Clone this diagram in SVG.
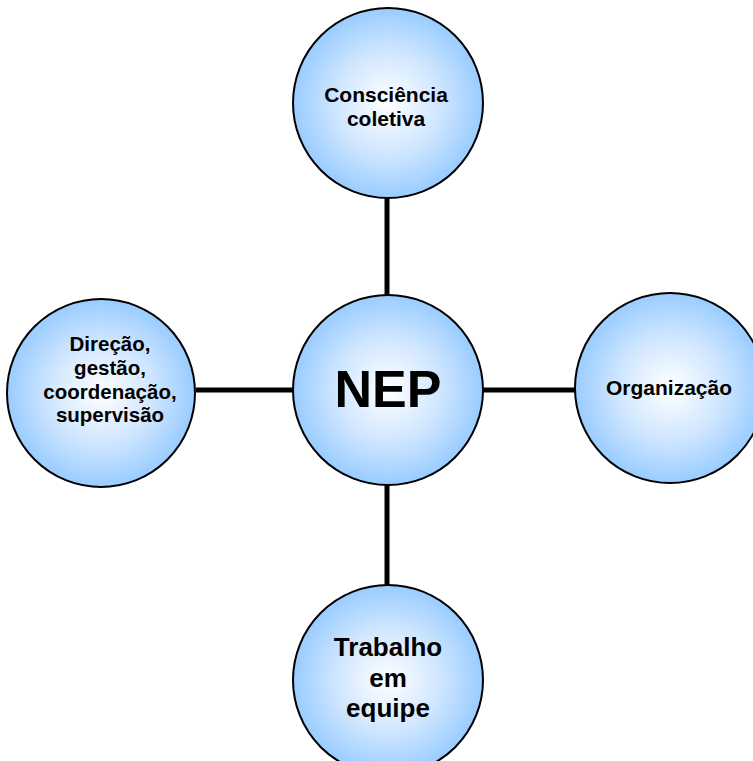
<svg xmlns="http://www.w3.org/2000/svg" width="753" height="761" viewBox="0 0 753 761">
<style>
.c{fill:url(#g);stroke:#000;stroke-width:2}
.t{font-family:"Liberation Sans",Arial,sans-serif;font-weight:bold;fill:#000;text-anchor:middle}
.l{stroke:#000;stroke-width:5;fill:none}
</style>
<defs>
<radialGradient id="g" cx="50%" cy="50%" r="50%">
<stop offset="0" stop-color="#ffffff"/>
<stop offset="0.55" stop-color="#cfe6ff"/>
<stop offset="1" stop-color="#99ccff"/>
</radialGradient>
</defs>
<rect width="753" height="761" fill="#fff"/>
<g id="connectors">
<line class="l" x1="387" y1="197" x2="387" y2="296"/>
<line class="l" x1="196" y1="390" x2="294" y2="390"/>
<line class="l" x1="481" y1="390" x2="576" y2="390"/>
<line class="l" x1="387" y1="484" x2="387" y2="586"/>
</g>
<g id="consciencia">
<circle class="c" cx="388" cy="103" r="95"/>
<text class="t" font-size="21" x="386" y="102">Consciência</text>
<text class="t" font-size="21" x="386" y="126">coletiva</text>
</g>
<g id="nep">
<circle class="c" cx="388" cy="390" r="95"/>
<text class="t" font-size="52" x="388" y="407">NEP</text>
</g>
<g id="direcao">
<circle class="c" cx="101" cy="393" r="94"/>
<text class="t" font-size="20.5" x="110" y="351">Direção,</text>
<text class="t" font-size="20.5" x="110" y="375">gestão,</text>
<text class="t" font-size="20.5" x="110" y="399">coordenação,</text>
<text class="t" font-size="20.5" x="110" y="422">supervisão</text>
</g>
<g id="organizacao">
<circle class="c" cx="670" cy="388" r="95"/>
<text class="t" font-size="21" x="669" y="395">Organização</text>
</g>
<g id="trabalho">
<circle class="c" cx="388" cy="680" r="95"/>
<text class="t" font-size="26" x="388" y="656">Trabalho</text>
<text class="t" font-size="26" x="388" y="687">em</text>
<text class="t" font-size="26" x="388" y="717">equipe</text>
</g>
</svg>
